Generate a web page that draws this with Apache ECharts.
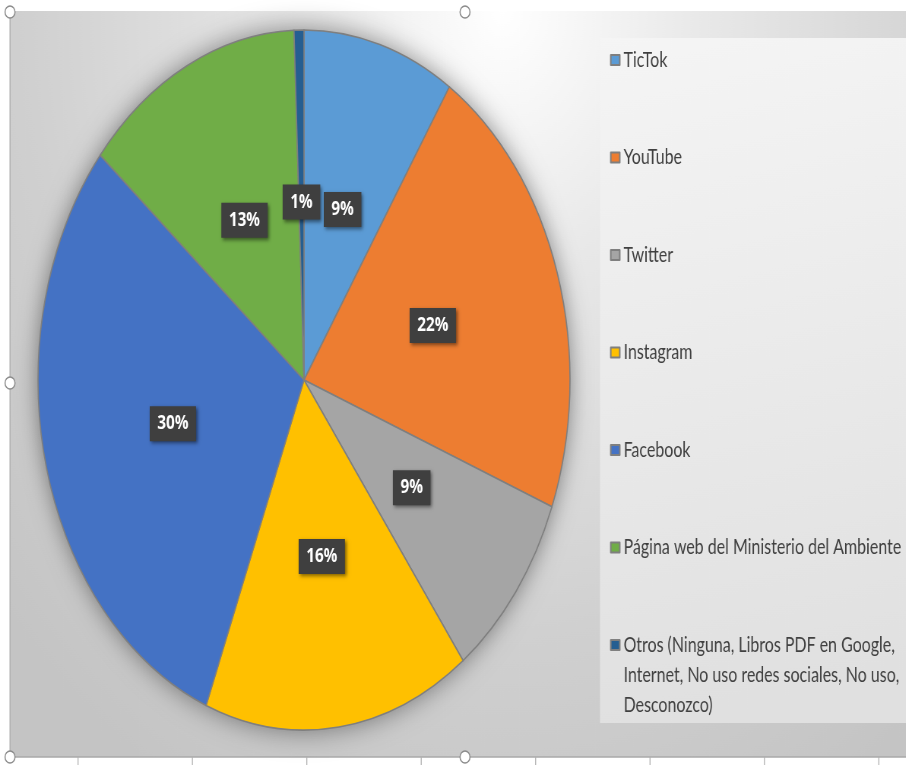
<!DOCTYPE html>
<html>
<head>
<meta charset="utf-8">
<script src="https://cdn.jsdelivr.net/npm/echarts@6/dist/echarts.min.js"></script>
<style>
html,body{margin:0;padding:0;overflow:hidden;background:#ffffff;width:906px;height:765px;}
#chart{width:1192px;height:765px;transform:scaleX(0.76);transform-origin:0 0;}
</style>
</head>
<body>
<div id="chart"></div>
<script>
// Data
const categories = [
  'TicTok',
  'YouTube',
  'Twitter',
  'Instagram',
  'Facebook',
  'Página web del Ministerio del Ambiente',
  'Otros (Ninguna, Libros PDF en Google, Internet, No uso redes sociales, No uso, Desconozco)'
];
const legendLabels = [
  'TicTok',
  'YouTube',
  'Twitter',
  'Instagram',
  'Facebook',
  'Página web del Ministerio del Ambiente',
  '\n\nOtros (Ninguna, Libros PDF en Google,\nInternet, No uso redes sociales, No uso,\nDesconozco)'
];
const values = [9.2, 21.7, 8.9, 16.2, 30.1, 13.3, 0.6];
const colors = ['#5B9BD5', '#ED7D31', '#A5A5A5', '#FFC000', '#4472C4', '#70AD47', '#255E91'];

const SX = 0.76; // horizontal squeeze applied by CSS
const ux = v => v / SX;

const chart = echarts.init(document.getElementById('chart'));

const handles = [[10, 12], [465, 12], [10, 383], [10, 757], [465, 757]];
const graphics = [
  {
    type: 'rect', z: -10, silent: true,
    shape: { x: ux(10), y: 11, width: ux(896), height: 746 },
    style: {
      fill: new echarts.graphic.RadialGradient(0.55, 0.0, 1.2, [
        { offset: 0, color: '#ffffff' },
        { offset: 0.3, color: '#e8e8e8' },
        { offset: 0.7, color: '#d0d0d0' },
        { offset: 1, color: '#c4c4c4' }
      ])
    }
  },
  {
    type: 'rect', z: -9, silent: true,
    shape: { x: ux(600), y: 38, width: ux(306), height: 685 },
    style: {
      fill: new echarts.graphic.LinearGradient(0, 0, 0.3, 1, [
        { offset: 0, color: '#f5f5f5' },
        { offset: 1, color: '#e0e0e0' }
      ])
    }
  },
  {
    type: 'line', z: -8, silent: true,
    shape: { x1: ux(10), y1: 11, x2: ux(10), y2: 757 },
    style: { stroke: '#a8a8a8', lineWidth: 1.3 }
  },
  {
    type: 'line', z: -8, silent: true,
    shape: { x1: ux(10), y1: 757, x2: ux(906), y2: 757 },
    style: { stroke: '#a8a8a8', lineWidth: 1.3 }
  }
];
for (let i = 0; i < 8; i++) {
  const tx = ux(78 + i * 114.4);
  graphics.push({
    type: 'line', z: -8, silent: true,
    shape: { x1: tx, y1: 757, x2: tx, y2: 765 },
    style: { stroke: '#b0b0b0', lineWidth: 1.3 }
  });
}
handles.forEach(h => {
  graphics.push({
    type: 'ellipse', z: 50, silent: true,
    shape: { cx: ux(h[0]), cy: h[1], rx: ux(5), ry: 6 },
    style: { fill: '#ffffff', stroke: '#8a8a8a', lineWidth: 1.5 }
  });
});

const legendText = {};
categories.forEach((c, i) => { legendText[c] = legendLabels[i]; });

const legendCommon = {
  orient: 'vertical',
  left: ux(610),
  padding: 0,
  itemWidth: ux(9),
  itemHeight: 10,
  icon: 'rect',
  itemGap: 67.5,
  selectedMode: false,
  formatter: name => legendText[name],
  textStyle: { fontFamily: 'Lato', fontSize: 21, color: '#404040', lineHeight: 30 }
};

chart.setOption({
  animation: false,
  color: colors,
  graphic: graphics,
  legend: [
    Object.assign({}, legendCommon, { top: 45, data: categories.slice(0, 6) }),
    Object.assign({}, legendCommon, { top: 570, data: [categories[6]] })
  ],
  series: [
    {
      type: 'pie',
      silent: true,
      z: 1,
      center: [ux(304), 380],
      radius: 350,
      label: { show: false },
      itemStyle: { color: '#888888', shadowBlur: 28, shadowColor: 'rgba(0,0,0,0.45)' },
      data: [{ value: 1, name: '__shadow__' }]
    },
    {
      type: 'pie',
      z: 2,
      center: [ux(304), 380],
      radius: 350,
      startAngle: 90,
      clockwise: true,
      avoidLabelOverlap: false,
      itemStyle: { borderColor: '#7f7f7f', borderWidth: 1.6 },
      label: {
        show: true,
        position: 'inside',
        formatter: p => Math.round(p.percent) + '%',
        fontFamily: 'Open Sans',
        fontWeight: 'bold',
        fontSize: 20,
        color: '#ffffff',
        backgroundColor: '#3f3f3f',
        padding: [8, 10, 7, 10],
        shadowBlur: 4,
        shadowOffsetX: 2,
        shadowOffsetY: 2,
        shadowColor: 'rgba(0,0,0,0.5)'
      },
      labelLine: { show: false },
      data: categories.map((c, i) => ({ name: c, value: values[i] }))
    }
  ]
});
</script>
</body>
</html>
